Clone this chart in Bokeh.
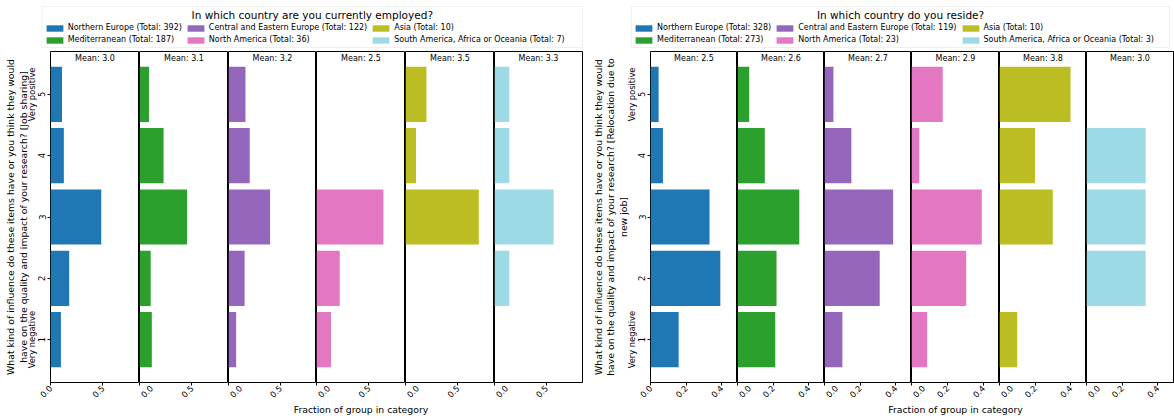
import math
from bokeh.plotting import figure
from bokeh.layouts import row, column
from bokeh.models import (Range1d, FixedTicker, PrintfTickFormatter, LinearAxis, Label,
                          Legend, LegendItem, BoxAnnotation)
from bokeh.embed import file_html
from bokeh.resources import INLINE

FONT = "DejaVu Sans"

levels = [1, 2, 3, 4, 5]
groups = ["Northern Europe", "Mediterranean", "Central and Eastern Europe",
          "North America", "Asia", "South America, Africa or Oceania"]
colors = ["#1f77b4", "#2ca02c", "#9467bd", "#e377c2", "#bcbd22", "#9edae5"]

# ---- Chart 1: employed (counts for answers 1..5)
emp_title = "In which country are you currently employed?"
emp_totals = [392, 187, 122, 36, 10, 7]
emp_ne = [39, 70, 190, 50, 43]
emp_med = [22, 20, 85, 43, 17]
emp_cee = [9, 19, 49, 25, 20]
emp_na = [5, 8, 23, 0, 0]
emp_asia = [0, 0, 7, 1, 2]
emp_sa = [0, 1, 4, 1, 1]
emp_means = [3.0, 3.1, 3.2, 2.5, 3.5, 3.3]
emp_xticks = [0.0, 0.5]
emp_xmax = 0.85
emp_ylabel = ("What kind of influence do these items have or you think they would\n"
              "have on the quality and impact of your research? [Job sharing]")

# ---- Chart 2: residence
res_title = "In which country do you reside?"
res_totals = [328, 273, 119, 23, 10, 3]
res_ne = [52, 129, 109, 23, 15]
res_med = [58, 60, 95, 42, 18]
res_cee = [12, 37, 46, 18, 6]
res_na = [2, 7, 9, 1, 4]
res_asia = [1, 0, 3, 2, 4]
res_sa = [0, 1, 1, 1, 0]
res_means = [2.5, 2.6, 2.7, 2.9, 3.8, 3.0]
res_xticks = [0.0, 0.2, 0.4]
res_xmax = 0.49
res_ylabel = ("What kind of influence do these items have or you think they would\n"
              "have on the quality and impact of your research? [Relocation due to\n"
              "new job]")

xlabel = "Fraction of group in category"
pole_labels = {1: "Very negative", 5: "Very positive"}

LEG_H = 50
FRAME_H = 332
B_TOP = 1
B_BOT = 20
XL_H = 16


def legend_fig(width, title, totals, box_l, box_r, leg_x):
    lf = figure(width=width, height=LEG_H, x_range=Range1d(0, width), y_range=Range1d(0, LEG_H),
                output_backend="svg", toolbar_location=None,
                x_axis_location=None, y_axis_location=None,
                min_border=0, outline_line_color=None)
    lf.grid.visible = False
    items = []
    for g, c, t in zip(groups, colors, totals):
        # zero-width proxy bar, only used for the legend swatch
        r = lf.hbar(y=[0], left=[0], right=[0], height=1, fill_color=c, line_color=None)
        items.append(LegendItem(label=f"{g} (Total: {t})", renderers=[r]))
    leg = Legend(items=items, location=(leg_x, 6), orientation="vertical", nrows=2,
                 padding=0, margin=0, spacing=3, border_line_color=None,
                 background_fill_alpha=0, label_standoff=3,
                 glyph_width=21, glyph_height=8, label_height=9,
                 label_text_font_size="8px", label_text_font=FONT, label_text_color="black")
    lf.add_layout(leg, "center")
    lf.add_layout(BoxAnnotation(left=box_l, right=box_r, bottom=3, top=44,
                                fill_alpha=0, line_color="#cccccc", line_width=1))
    lf.add_layout(Label(x=(box_l + box_r) / 2, y=36, text=title, text_align="center",
                        text_baseline="middle", text_font_size="10.5px", text_font=FONT,
                        text_color="black"))
    return lf


def xlabel_fig(width, xc):
    xf = figure(width=width, height=XL_H, x_range=Range1d(0, width), y_range=Range1d(0, XL_H),
                output_backend="svg", toolbar_location=None,
                x_axis_location=None, y_axis_location=None,
                min_border=0, outline_line_color=None)
    xf.grid.visible = False
    xf.add_layout(Label(x=xc, y=10, text=xlabel, text_align="center", text_baseline="middle",
                        text_font_size="9.3px", text_font=FONT, text_color="black"))
    return xf


def panel(counts, total, color, mean, xmax, xticks, fw, first, last, ylabel, left_border):
    bl = left_border if first else 0
    br = 1 if last else 0
    p = figure(width=bl + fw + br, height=B_TOP + FRAME_H + B_BOT,
               x_range=Range1d(0, xmax), y_range=Range1d(0.3, 5.7),
               output_backend="svg", toolbar_location=None,
               y_axis_location="left" if first else None,
               min_border_left=bl, min_border_right=br,
               min_border_top=B_TOP, min_border_bottom=B_BOT,
               outline_line_color="black", outline_line_width=1)
    p.grid.visible = False
    fr = [c / total for c in counts]
    p.hbar(y=levels, left=0, right=fr, height=0.9, fill_color=color, line_color=None)

    xa = p.xaxis[0]
    xa.ticker = FixedTicker(ticks=xticks)
    xa.formatter = PrintfTickFormatter(format="%.1f")
    xa.major_label_orientation = math.pi / 4
    xa.major_label_text_font_size = "8.3px"
    xa.major_label_text_font = FONT
    xa.major_label_text_color = "black"
    xa.major_tick_out = 3
    xa.major_tick_in = 0
    xa.minor_tick_line_color = None
    xa.axis_line_color = None
    xa.major_label_standoff = 1

    if first:
        ya = p.yaxis[0]
        ya.ticker = FixedTicker(ticks=levels)
        ya.major_label_orientation = "vertical"
        ya.major_label_text_font_size = "8.3px"
        ya.major_label_text_font = FONT
        ya.major_label_text_color = "black"
        ya.major_tick_out = 3
        ya.major_tick_in = 0
        ya.minor_tick_line_color = None
        ya.axis_line_color = None
        ya.major_label_standoff = 2

        ya2 = LinearAxis(ticker=FixedTicker(ticks=[1, 5]), major_label_overrides=pole_labels,
                         major_tick_out=0, major_tick_in=0, minor_tick_line_color=None,
                         axis_line_color=None, major_label_orientation="vertical",
                         major_label_text_font_size="8.3px", major_label_text_font=FONT,
                         major_label_text_color="black", major_label_standoff=-2,
                         axis_label=ylabel, axis_label_text_font_size="9.3px",
                         axis_label_text_line_height=1.13,
                         axis_label_text_font=FONT, axis_label_text_font_style="normal",
                         axis_label_text_color="black", axis_label_standoff=-4)
        p.add_layout(ya2, "left")

    p.add_layout(Label(x=xmax / 2, y=5.581, text=f"Mean: {mean:.1f}", text_align="center",
                       text_baseline="middle", text_font_size="8px", text_font=FONT,
                       text_color="black"))
    return p


def chart(title, totals, series, means, xmax, xticks, fws, left_border, ylabel, box_l, box_r, leg_x):
    n = len(series)
    panels = []
    for i, (cnt, tot, col, mn) in enumerate(zip(series, totals, colors, means)):
        panels.append(panel(cnt, tot, col, mn, xmax, xticks, fws[i], i == 0, i == n - 1,
                            ylabel, left_border))
    width = left_border + sum(fws) + 1
    lf = legend_fig(width, title, totals, box_l, box_r, leg_x)
    xc = left_border + sum(fws[:n // 2]) + fws[n // 2] / 2
    xf = xlabel_fig(width, xc)
    return column(lf, row(*panels), xf)


left = chart(emp_title, emp_totals, [emp_ne, emp_med, emp_cee, emp_na, emp_asia, emp_sa],
             emp_means, emp_xmax, emp_xticks, [89, 89, 88, 89, 89, 88], 50, emp_ylabel,
             41.5, 582, 43.7)
right = chart(res_title, res_totals, [res_ne, res_med, res_cee, res_na, res_asia, res_sa],
              res_means, res_xmax, res_xticks, [87, 87, 87, 88, 87, 87], 67, res_ylabel,
              48, 586, 50)

layout = row(left, right)
open("out.html", "w").write(file_html(layout, INLINE))
